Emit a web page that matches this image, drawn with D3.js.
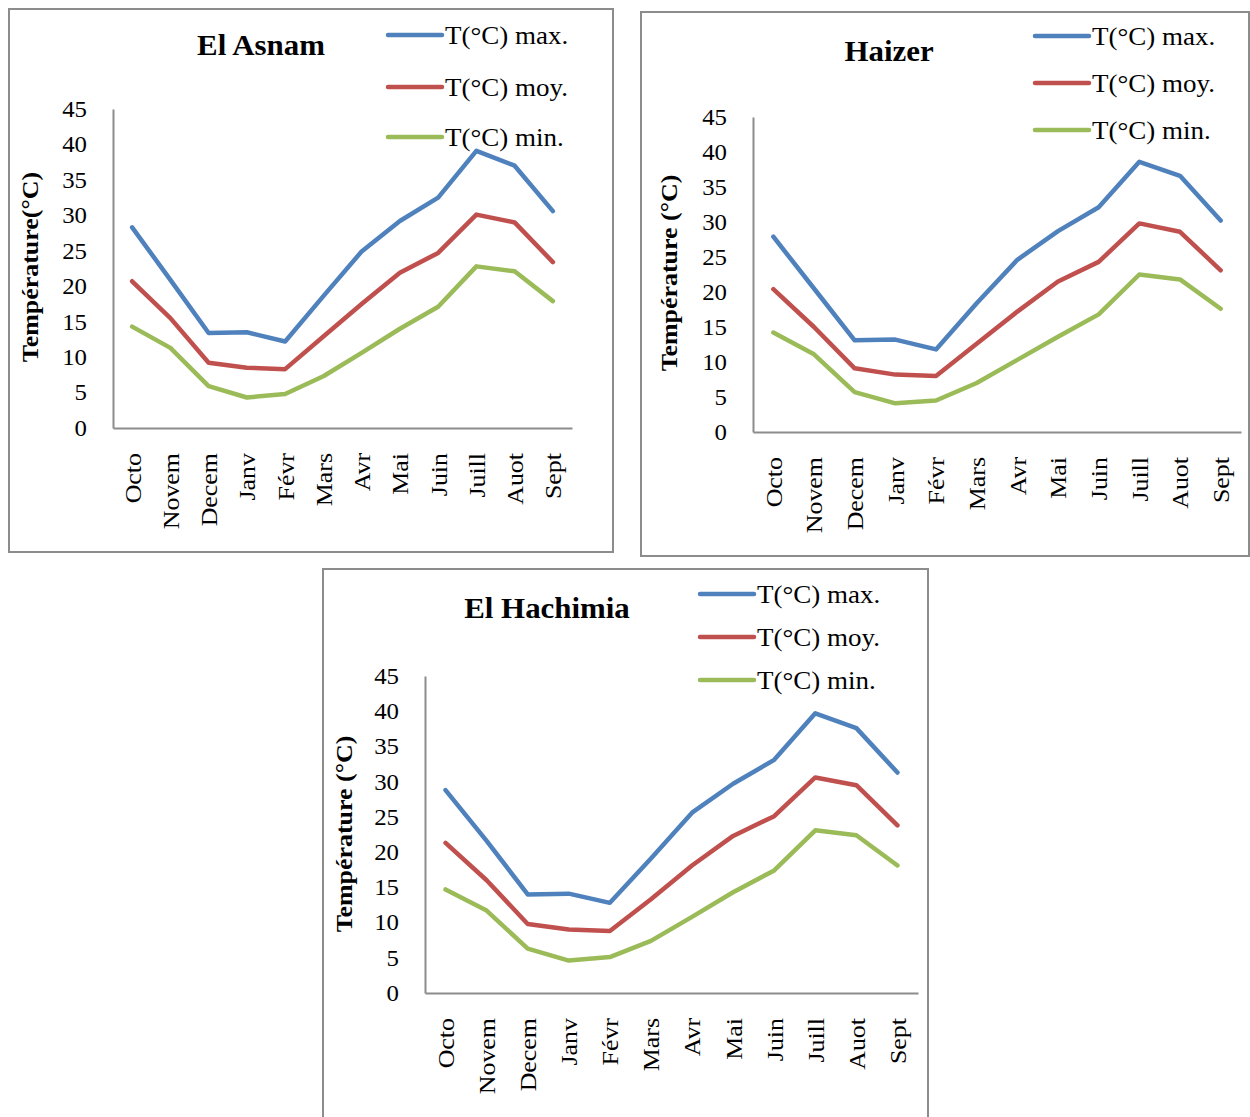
<!DOCTYPE html>
<html><head><meta charset="utf-8">
<script src="https://cdn.jsdelivr.net/npm/d3@7"></script>
<style>
html,body{margin:0;padding:0;background:#fff;}
svg{display:block;}
text{font-family:"Liberation Serif","Times New Roman",serif;fill:#000;}
</style></head>
<body>
<svg id="chart" width="1250" height="1117"></svg>
<script>
const months = ["Octo","Novem","Decem","Janv","Févr","Mars","Avr","Mai","Juin","Juill","Auot","Sept"];
const yTicks = [0,5,10,15,20,25,30,35,40,45];
const seriesNames = ["T(°C) max.","T(°C) moy.","T(°C) min."];
const seriesColors = ["#4F81BD","#C0504D","#9BBB59"];

const asnamMax = [28.3,20.9,13.4,13.5,12.2,18.6,24.9,29.2,32.5,39.1,37.0,30.6];
const asnamMoy = [20.7,15.5,9.2,8.5,8.3,12.9,17.5,21.9,24.7,30.1,29.0,23.4];
const asnamMin = [14.3,11.3,5.9,4.3,4.8,7.3,10.6,14.0,17.1,22.8,22.1,17.9];

const haizerMax = [27.9,20.5,13.1,13.2,11.8,18.4,24.6,28.7,32.1,38.6,36.6,30.2];
const haizerMoy = [20.4,15.0,9.1,8.2,8.0,12.6,17.2,21.5,24.3,29.8,28.6,23.1];
const haizerMin = [14.2,11.1,5.7,4.1,4.5,7.0,10.3,13.6,16.8,22.5,21.8,17.6];

const hachMax = [28.8,21.6,14.0,14.1,12.8,19.1,25.6,29.7,33.1,39.7,37.6,31.3];
const hachMoy = [21.3,16.0,9.8,9.0,8.8,13.3,18.1,22.3,25.1,30.6,29.5,23.8];
const hachMin = [14.7,11.7,6.3,4.6,5.1,7.4,10.8,14.3,17.4,23.1,22.4,18.1];

const charts = [
  {title:"El Asnam", ylabel:"Température(°C)", data:[asnamMax,asnamMoy,asnamMin],
   frame:[9,9,604,543], x0:113, x1:572, yTop:109, yBot:428, titleX:261, titleY:55,
   legX:388, legY:[35,87,137], ylabX:38, ylabY:267},
  {title:"Haizer", ylabel:"Température (°C)", data:[haizerMax,haizerMoy,haizerMin],
   frame:[641,12,608,544], x0:753, x1:1241, yTop:117, yBot:432, titleX:889, titleY:61,
   legX:1035, legY:[36,83,130], ylabX:677, ylabY:273},
  {title:"El Hachimia", ylabel:"Température (°C)", data:[hachMax,hachMoy,hachMin],
   frame:[323,569,605,560], x0:425, x1:918, yTop:676, yBot:993, titleX:547, titleY:618,
   legX:700, legY:[594,637,680], ylabX:352, ylabY:834}
];

const SX = 1.08;  // horizontal stretch of the reference's text
const SXT = 1.03; // stretch for titles
const svg = d3.select("#chart");

charts.forEach(c => {
  const g = svg.append("g");
  const [fx,fy,fw,fh] = c.frame;
  g.append("rect").attr("x",fx).attr("y",fy).attr("width",fw).attr("height",fh)
    .attr("fill","#fff").attr("stroke","#8c8c8c").attr("stroke-width",2);

  const x = d3.scaleBand().domain(months).range([c.x0,c.x1]);
  const y = d3.scaleLinear().domain([0,45]).range([c.yBot,c.yTop]);

  // y axis
  const ya = g.append("g").attr("transform",`translate(${c.x0},0)`)
    .call(d3.axisLeft(y).tickValues(yTicks).tickSize(0).tickPadding(26));
  ya.select(".domain").attr("stroke","#8c8c8c").attr("stroke-width",2);
  ya.selectAll("text").attr("font-size",23).attr("font-family","Liberation Serif").attr("fill","#000")
    .attr("x",-26/SX).attr("transform",`scale(${SX},1)`);

  // x axis
  const xa = g.append("g").attr("transform",`translate(0,${c.yBot})`)
    .call(d3.axisBottom(x).tickSize(0).tickPadding(0));
  xa.select(".domain").attr("stroke","#8c8c8c").attr("stroke-width",2);
  xa.selectAll("text").attr("font-size",24).attr("font-family","Liberation Serif").attr("fill","#000")
    .attr("transform",`rotate(-90) scale(${SX},1)`).attr("text-anchor","end")
    .attr("x",-25/SX).attr("y",0).attr("dy","0.35em");

  // lines
  const line = d3.line().x((d,i)=>x(months[i])+x.bandwidth()/2).y(d=>y(d));
  c.data.forEach((s,k)=>{
    g.append("path").datum(s).attr("d",line).attr("fill","none")
      .attr("stroke",seriesColors[k]).attr("stroke-width",4.5)
      .attr("stroke-linejoin","round").attr("stroke-linecap","round");
  });

  // title
  g.append("text").attr("transform",`translate(${c.titleX},${c.titleY}) scale(${SXT},1)`)
    .attr("text-anchor","middle")
    .attr("font-size",30).attr("font-weight","bold").text(c.title);

  // y label
  g.append("text").attr("transform",`translate(${c.ylabX},${c.ylabY}) rotate(-90) scale(${SX},1)`)
    .attr("text-anchor","middle").attr("font-size",24).attr("font-weight","bold").text(c.ylabel);

  // legend
  seriesNames.forEach((n,k)=>{
    g.append("line").attr("x1",c.legX).attr("x2",c.legX+54).attr("y1",c.legY[k]).attr("y2",c.legY[k])
      .attr("stroke",seriesColors[k]).attr("stroke-width",4.5).attr("stroke-linecap","round");
    g.append("text").attr("transform",`translate(${c.legX+57},${c.legY[k]}) scale(${SX},1)`)
      .attr("dy","0.35em").attr("font-size",25).text(n);
  });
});
</script>
</body></html>
